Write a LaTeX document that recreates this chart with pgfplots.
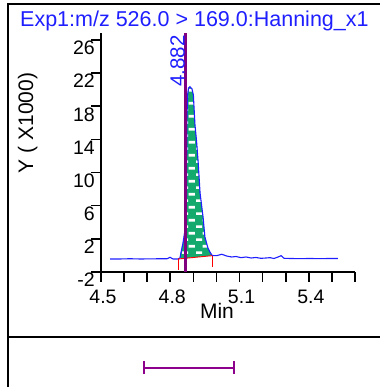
\documentclass[border=0pt]{standalone}
\usepackage{fontspec}
\setmainfont{Liberation Sans}
\usepackage{pgfplots}
\pgfplotsset{compat=1.18}
\usetikzlibrary{patterns}
\pgfdeclarepatternformonly{wdash}{\pgfpoint{0pt}{0pt}}{\pgfpoint{14pt}{13.4pt}}{\pgfpoint{14pt}{13.4pt}}{%
  \pgfpathrectangle{\pgfpoint{0pt}{0pt}}{\pgfpoint{6.5pt}{2.7pt}}%
  \pgfpathrectangle{\pgfpoint{7pt}{6.7pt}}{\pgfpoint{6.5pt}{2.7pt}}%
  \pgfusepath{fill}}
\definecolor{tblue}{RGB}{30,30,255}
\definecolor{pgreen}{RGB}{20,170,110}
\definecolor{ppurple}{RGB}{128,0,128}
\definecolor{bpurple}{RGB}{140,0,140}

\begin{document}
\begin{tikzpicture}[x=1pt,y=1pt]
\useasboundingbox (0,0) rectangle (381,387);
\draw[line width=2pt] (8,0) -- (8,383) -- (379.5,383);
\draw[line width=2pt] (8,49.5) -- (379.5,49.5);
\node[anchor=base west, text=tblue, font=\fontsize{21.5}{23}\selectfont, inner sep=0pt] at (20,360) {Exp1:m/z 526.0 > 169.0:Hanning\_x1};
\node[rotate=90, anchor=base, font=\fontsize{21}{23}\selectfont, inner sep=0pt] at (33,264) {Y ( X1000)};
\node[anchor=base, font=\fontsize{21}{23}\selectfont, inner sep=0pt] at (217,68) {Min};
\begin{axis}[
  scale only axis, width=254pt, height=238.7pt,
  at={(101pt,115pt)}, anchor=south west,
  xmin=4.5, xmax=5.6, ymin=-2, ymax=26.8,
  axis x line*=bottom, axis y line*=left,
  axis line style={line width=2pt, -},
  tick align=outside, major tick length=10pt,
  tick style={line width=1.6pt, black},
  xtick={4.5,4.6,4.7,4.8,4.9,5.0,5.1,5.2,5.3,5.4,5.5,5.6},
  xticklabels={4.5,,,4.8,,,5.1,,,5.4,,},
  ytick={-2,2,6,10,14,18,22,26},
  yticklabels={-2,2,6,10,14,18,22,26},
  /pgf/number format/assume math mode=true,
  xticklabel style={font=\fontsize{19.5}{21}\selectfont, anchor=north, inner sep=0pt, yshift=-8pt, xshift=2pt},
  yticklabel style={font=\fontsize{19.5}{21}\selectfont, anchor=north east, inner sep=0pt, xshift=4pt, yshift=-1pt},
  clip=false,
]
% integrated area
\addplot[draw=none, fill=pgreen, postaction={pattern=wdash, pattern color=white}] coordinates {
(4.834,-0.43) (4.842,-0.31) (4.846,0.29) (4.855,1.50) (4.864,3.07) (4.870,6.69)
(4.872,16.34) (4.875,19.36) (4.879,20.20) (4.885,20.36) (4.894,20.09) (4.900,19.36)
(4.907,15.74) (4.914,13.73) (4.921,11.15) (4.929,7.53) (4.942,4.64) (4.950,2.22)
(4.963,0.90) (4.972,0.41) (4.981,-0.01)} -- cycle;
% trace
\addplot[tblue, line width=1.1pt] coordinates {
(4.539,-0.43) (4.582,-0.43) (4.626,-0.40) (4.669,-0.43) (4.712,-0.42) (4.756,-0.40)
(4.786,-0.40) (4.799,-0.23) (4.812,-0.43) (4.833,-0.43)
(4.842,-0.31) (4.846,0.29) (4.855,1.50) (4.864,3.07) (4.870,6.69)
(4.872,16.34) (4.875,19.36) (4.879,20.20) (4.885,20.36) (4.894,20.09) (4.900,19.36)
(4.907,15.74) (4.914,13.73) (4.921,11.15) (4.929,7.53) (4.942,4.64) (4.950,2.22)
(4.963,0.90) (4.972,0.41) (4.981,-0.01) (5.001,-0.03) (5.023,0.14) (5.044,-0.07)
(5.066,-0.19) (5.085,-0.13) (5.106,-0.27) (5.128,-0.19) (5.150,-0.31) (5.171,-0.25)
(5.193,-0.35) (5.215,-0.31) (5.232,-0.27) (5.249,-0.37) (5.267,-0.19) (5.280,-0.03)
(5.293,-0.35) (5.319,-0.37) (5.362,-0.39) (5.405,-0.37) (5.448,-0.39) (5.492,-0.37)
(5.526,-0.37)};
% integration baseline
\addplot[red, line width=0.9pt] coordinates {(4.834,-0.43) (4.981,-0.03)};
\addplot[red, line width=0.9pt] coordinates {(4.834,-0.43) (4.834,-1.76)};
\addplot[red, line width=0.9pt] coordinates {(4.981,-0.03) (4.981,-1.36)};
% retention time marker
\addplot[ppurple, line width=3pt] coordinates {(4.864,-2) (4.864,26.8)};
\node[rotate=90, anchor=south east, text=tblue, font=\fontsize{20.5}{22}\selectfont, inner sep=0pt, xshift=-2pt] at (axis cs:4.864,26.8) {4.882};
% expected window
\addplot[bpurple, line width=1.6pt] coordinates {(4.686,-13.59) (5.076,-13.59)};
\addplot[bpurple, line width=1.6pt] coordinates {(4.686,-12.74) (4.686,-14.31)};
\addplot[bpurple, line width=1.6pt] coordinates {(5.076,-12.74) (5.076,-14.31)};
\end{axis}
\end{tikzpicture}
\end{document}
